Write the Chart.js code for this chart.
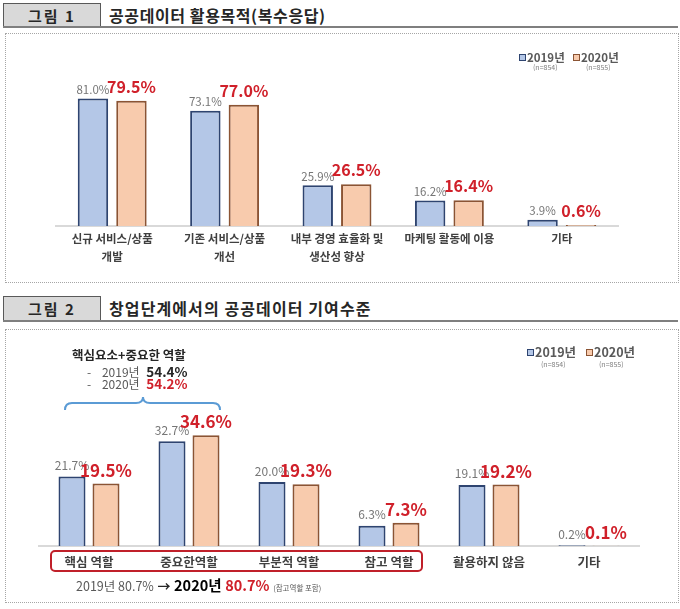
<!DOCTYPE html>
<html><head><meta charset="utf-8">
<script src="https://cdn.jsdelivr.net/npm/chart.js@4.4.0/dist/chart.umd.min.js"></script>
<style>
body{margin:0;background:#fff;width:680px;height:609px;position:relative;overflow:hidden;font-family:"Noto Sans CJK KR","Noto Sans",sans-serif;}
.tag{position:absolute;left:3px;width:96px;height:23px;background:#d9d9d9;border:1px solid #595959;border-bottom:none;font-weight:bold;font-size:15px;color:#262626;text-align:center;line-height:23px;letter-spacing:2px}
.rule{position:absolute;left:3px;width:675px;height:2px;background:#7f7f7f}
.title{position:absolute;left:109px;font-size:16px;font-weight:bold;color:#262626;line-height:20px;white-space:nowrap}
.box{position:absolute;left:5px;width:672px;border:1px dotted #a6a6a6}
canvas{position:absolute;left:0}
.lg{position:absolute;font-weight:bold;color:#595959;white-space:nowrap;line-height:14px}
.sq{display:inline-block;width:5px;height:5px;border:1.5px solid;margin-right:1px;vertical-align:1px}
.lgn{position:absolute;font-size:7px;color:#7f7f7f;line-height:8px;white-space:nowrap}
.abs{position:absolute;white-space:nowrap}
</style></head>
<body>
<div class="tag" style="top:3px">그림 1</div>
<div class="rule" style="top:26px"></div>
<div class="title" style="top:5px;letter-spacing:0.6px">공공데이터 활용목적(복수응답)</div>
<div class="box" style="top:33px;height:248px"></div>

<div class="tag" style="top:296px">그림 2</div>
<div class="rule" style="top:320px"></div>
<div class="title" style="top:298px;letter-spacing:1.1px">창업단계에서의 공공데이터 기여수준</div>
<div class="box" style="top:329px;height:272px"></div>

<canvas id="c1" width="680" height="250" style="top:30px"></canvas>
<canvas id="c2" width="680" height="270" style="top:330px"></canvas>

<!-- legend chart 1 -->
<div class="lg" style="left:519px;top:50px;font-size:11.5px"><span class="sq" style="background:#b4c7e7;border-color:#2e4470"></span>2019년</div>
<div class="lgn" style="left:533px;top:63px">(n=854)</div>
<div class="lg" style="left:573px;top:50px;font-size:11.5px"><span class="sq" style="background:#f8cbad;border-color:#8b5434"></span>2020년</div>
<div class="lgn" style="left:586px;top:63px">(n=855)</div>

<!-- legend chart 2 -->
<div class="lg" style="left:527px;top:345px;font-size:12.5px"><span class="sq" style="background:#b4c7e7;border-color:#2e4470"></span>2019년</div>
<div class="lgn" style="left:541px;top:360px">(n=854)</div>
<div class="lg" style="left:586px;top:345px;font-size:12.5px"><span class="sq" style="background:#f8cbad;border-color:#8b5434"></span>2020년</div>
<div class="lgn" style="left:599px;top:360px">(n=855)</div>

<!-- annotation chart 2 -->
<div class="abs" style="left:72px;top:346px;font-size:12.5px;font-weight:bold;color:#262626;line-height:18px">핵심요소+중요한 역할</div>
<div class="abs" style="left:87px;top:363px;font-size:12px;color:#595959;line-height:17px">-&nbsp;&nbsp;&nbsp; 2019년 <b style="color:#262626;font-size:13.5px;margin-left:4px">54.4%</b></div>
<div class="abs" style="left:87px;top:375px;font-size:12px;color:#595959;line-height:17px">-&nbsp;&nbsp;&nbsp; 2020년 <b style="color:#d0202a;font-size:13.5px;margin-left:4px">54.2%</b></div>
<svg class="abs" style="left:0;top:391px" width="240" height="25">
<path d="M65 19 Q65 12 72 12 L136 12 Q143 12 143 6 Q143 12 150 12 L213 12 Q220 12 220 19" fill="none" stroke="#5b9bd5" stroke-width="2"/>
</svg>
<div class="abs" style="left:50px;top:550px;width:369px;height:18px;border:2px solid #c0202a;border-radius:5px"></div>
<div class="abs" style="left:76px;top:574px;line-height:20px;color:#404040">
<span style="font-size:12.5px;color:#595959">2019년 80.7%</span>
<b style="font-size:13px;color:#262626">→</b>
<b style="font-size:14.5px;color:#000">2020년</b>
<b style="font-size:14.5px;color:#d0202a">80.7%</b>
<span style="font-size:7.5px;color:#595959">(참고역할 포함)</span>
</div>

<script>
// ---- data ----
const cats1 = [['신규 서비스/상품','개발'], ['기존 서비스/상품','개선'], ['내부 경영 효율화 및','생산성 향상'], ['마케팅 활동에 이용'], ['기타']];
const p2019a = [81.0, 73.1, 25.9, 16.2, 3.9];
const p2020a = [79.5, 77.0, 26.5, 16.4, 0.6];

const cats2 = ['핵심 역할', '중요한역할', '부분적 역할', '참고 역할', '활용하지 않음', '기타'];
const p2019b = [21.7, 32.7, 20.0, 6.3, 19.1, 0.2];
const p2020b = [19.5, 34.6, 19.3, 7.3, 19.2, 0.1];

const seriesNames = ['2019년', '2020년'];

Chart.defaults.font.family = '"Noto Sans CJK KR","Noto Sans",sans-serif';

function makeLabels(styles) {
  return {
    id: 'valueLabels',
    afterDatasetsDraw(chart) {
      const ctx = chart.ctx;
      chart.data.datasets.forEach((ds, i) => {
        const meta = chart.getDatasetMeta(i);
        const st = styles[i];
        ctx.save();
        ctx.font = st.font;
        ctx.fillStyle = st.color;
        ctx.textAlign = 'center';
        ctx.textBaseline = 'middle';
        meta.data.forEach((el, j) => {
          ctx.fillText(ds.data[j].toFixed(1) + '%', el.x, el.y - st.off);
        });
        ctx.restore();
      });
    }
  };
}

function makeChart(id, cats, a, b, cfg) {
  return new Chart(document.getElementById(id), {
    type: 'bar',
    data: {
      labels: cats,
      datasets: [
        { label: seriesNames[0], data: a, backgroundColor: '#b4c7e7', borderColor: '#2e4470', borderWidth: 2,
          categoryPercentage: cfg.cp, barPercentage: cfg.bp },
        { label: seriesNames[1], data: b, backgroundColor: '#f8cbad', borderColor: '#8b5434', borderWidth: 2,
          categoryPercentage: cfg.cp, barPercentage: cfg.bp }
      ]
    },
    options: {
      responsive: false,
      animation: false,
      layout: { padding: cfg.pad },
      plugins: { legend: { display: false }, tooltip: { enabled: false } },
      scales: {
        x: {
          grid: { display: false, drawTicks: false },
          border: { display: true, color: '#d9d9d9', width: 2 },
          ticks: { color: '#404040', font: { size: cfg.tickSize, weight: 'bold', lineHeight: '18px' }, padding: cfg.tickPad, maxRotation: 0, autoSkip: false },
          afterFit: (s) => { s.height = cfg.axisH; }
        },
        y: { display: false, min: 0, max: cfg.ymax }
      }
    },
    plugins: [makeLabels(cfg.labels)]
  });
}

makeChart('c1', cats1, p2019a, p2020a, {
  cp: 0.685, bp: 0.79, ymax: 100, tickSize: 11.5, tickPad: 4, axisH: 54,
  pad: { left: 56, right: 62, top: 38.5, bottom: 0 },
  labels: [
    { font: '11.5px "Noto Sans CJK KR"', color: '#767676', off: 9 },
    { font: 'bold 16px "Noto Sans CJK KR"', color: '#d0202a', off: 14 }
  ]
});

makeChart('c2', cats2, p2019b, p2020b, {
  cp: 0.68, bp: 0.794, ymax: 40, tickSize: 12.5, tickPad: 7, axisH: 54,
  pad: { left: 39, right: 41, top: 88, bottom: 0 },
  labels: [
    { font: '12px "Noto Sans CJK KR"', color: '#767676', off: 11 },
    { font: 'bold 17px "Noto Sans CJK KR"', color: '#d0202a', off: 13.5 }
  ]
});
</script>
</body></html>
